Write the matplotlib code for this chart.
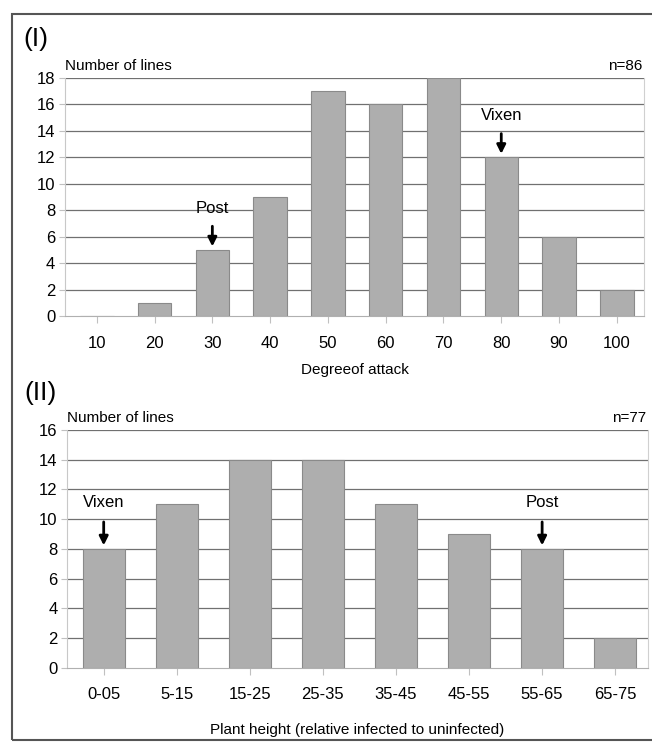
import matplotlib
matplotlib.use("Agg")
import matplotlib.pyplot as plt
from matplotlib.patches import Rectangle

plt.rcParams['font.family'] = ['Liberation Sans', 'DejaVu Sans']

# panel I: degree of attack
attack_labels = ['10', '20', '30', '40', '50', '60', '70', '80', '90', '100']
attack_counts = [0, 1, 5, 9, 17, 16, 18, 12, 6, 2]

# panel II: plant height
height_labels = ['0-05', '5-15', '15-25', '25-35', '35-45', '45-55', '55-65', '65-75']
height_counts = [8, 11, 14, 14, 11, 9, 8, 2]

bar_color = '#aeaeae'
edge_color = '#8a8a8a'
grid_color = '#707070'


def draw_panel(ax, labels, counts, ymax, xlim, n_text, xlabel, labelpad):
    x = list(range(len(labels)))
    ax.bar(x, counts, width=0.58, color=bar_color, edgecolor=edge_color,
           linewidth=0.8, zorder=3)
    ax.set_xlim(*xlim)
    ax.set_ylim(0, ymax)
    ax.set_yticks(range(0, ymax + 1, 2))
    ax.set_xticks(x)
    ax.set_xticklabels(labels)
    for y in range(2, ymax + 1, 2):
        ax.axhline(y, color=grid_color, linewidth=0.9, zorder=1)
    ax.spines['top'].set_visible(False)
    ax.spines['left'].set_color('#c8c8c8')
    ax.spines['right'].set_color('#d0d0d0')
    ax.spines['bottom'].set_color('#b0b0b0')
    ax.tick_params(axis='x', length=5, color='#c0c0c0', pad=9, labelsize=12)
    ax.tick_params(axis='y', length=4, color='#c0c0c0', pad=3, labelsize=12)
    ax.set_xlabel(xlabel, fontsize=11, labelpad=labelpad)
    ax.text(0.0, 1.02, 'Number of lines', transform=ax.transAxes,
            fontsize=11, ha='left', va='bottom')
    ax.text(0.997, 1.02, n_text, transform=ax.transAxes,
            fontsize=11, ha='right', va='bottom')


def mark(ax, xpos, top, text):
    ax.annotate('', xy=(xpos, top + 0.05), xytext=(xpos, top + 2.0),
                arrowprops=dict(arrowstyle='-|>', color='black', lw=2,
                                mutation_scale=13), zorder=5)
    ax.text(xpos, top + 2.6, text, ha='center', va='bottom', fontsize=12,
            zorder=5)


fig = plt.figure(figsize=(6.52, 7.42), dpi=100)

ax1 = fig.add_axes([0.0997, 0.574, 0.888, 0.321])
draw_panel(ax1, attack_labels, attack_counts, 18, (-0.55, 9.47),
           'n=86', 'Degreeof attack', 9)
mark(ax1, 2, attack_counts[2], 'Post')
mark(ax1, 7, attack_counts[7], 'Vixen')

ax2 = fig.add_axes([0.103, 0.0997, 0.891, 0.321])
draw_panel(ax2, height_labels, height_counts, 16, (-0.5, 7.45),
           'n=77', 'Plant height (relative infected to uninfected)', 15)
mark(ax2, 0, height_counts[0], 'Vixen')
mark(ax2, 6, height_counts[6], 'Post')

fig.text(0.036, 0.948, '(I)', fontsize=19, ha='left', va='center')
fig.text(0.038, 0.470, '(II)', fontsize=19, ha='left', va='center')

# outer frame of the figure
fig.patches.append(Rectangle((12 / 652, 2 / 742), 1.2, 1 - 16 / 742,
                             transform=fig.transFigure, fill=False,
                             edgecolor='#555555', linewidth=1.5))

fig.savefig('out.png', dpi=100)
